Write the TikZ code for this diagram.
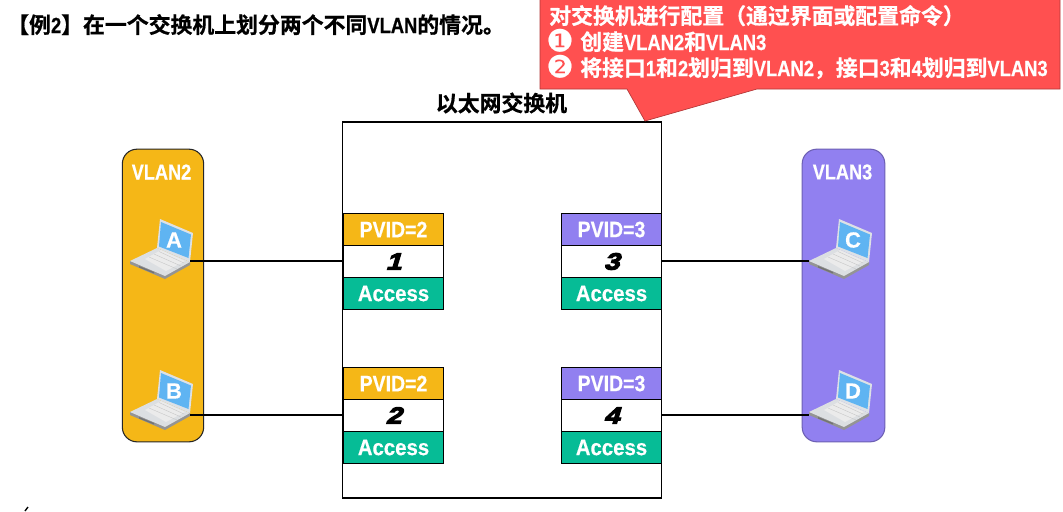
\documentclass[tikz,border=0pt]{standalone}
\usepackage{fontspec}
\setmainfont[UprightFont={* Bold},FakeBold=0.7]{Noto Sans CJK SC}
\newfontfamily\narrowlat[UprightFont={* Bold},FakeStretch=0.84,FakeBold=0.5]{Liberation Sans}
\newfontfamily\pvidlat[UprightFont={* Bold},FakeStretch=0.87,FakeBold=0.4]{Liberation Sans}
\newfontfamily\modelat[UprightFont={* Bold},FakeStretch=0.91,FakeBold=0.4]{Liberation Sans}
\newfontfamily\portlat[UprightFont={* Bold},FakeBold=0.4]{Liberation Sans}
\newfontfamily\portnum[UprightFont={* Bold},FakeBold=5,FakeSlant=0.3,FakeStretch=1.2]{Liberation Sans}
\newfontfamily\bullets[FakeBold=0.6]{DejaVu Sans}
\newcommand{\lat}[1]{{\narrowlat #1}}
\definecolor{vlanyellow}{HTML}{F5B717}
\definecolor{vlanpurple}{HTML}{9180F0}
\definecolor{accessgreen}{HTML}{06BC96}
\definecolor{calloutred}{HTML}{FF5050}
\definecolor{screenblue}{HTML}{5FB4F2}
\definecolor{lidgrey}{HTML}{DDE1E6}
\definecolor{basegrey}{HTML}{DCDFE2}
\tikzset{
  x=0.75pt,y=-0.75pt,
  heading/.style={anchor=base west,inner sep=0pt,font=\fontsize{16.4}{18}\selectfont},
  calloutline/.style={anchor=base west,inner sep=0pt,text=white,text height=14pt,text depth=3pt,font=\fontsize{16.4}{18}\selectfont},
  vlanzone/.style={draw=black!85,line width=0.8pt,rounded corners=11pt},
  vlanname/.style={inner sep=0pt,text=white,font=\narrowlat\fontsize{16.2}{17}\selectfont},
  portcell/.style={draw=black,line width=0.9pt,minimum width=75.5pt,minimum height=24pt,inner sep=0pt,outer sep=0pt},
  pvidy/.style={portcell,fill=vlanyellow,text=white,font=\pvidlat\fontsize{16.8}{17}\selectfont},
  pvidp/.style={portcell,fill=vlanpurple,text=white,font=\pvidlat\fontsize{16.8}{17}\selectfont},
  portno/.style={portcell,fill=white,text=black,font=\portnum\fontsize{17.5}{18}\selectfont},
  accessmode/.style={portcell,fill=accessgreen,text=white,font=\modelat\fontsize{16.8}{17}\selectfont},
  link/.style={draw=black,line width=1.1pt},
  hostletter/.style={inner sep=0pt,text=white,font=\portlat\fontsize{16.5}{19}\selectfont}
}
% Laptop drawn around the centre of its screen; the letter sits on the display.
\newcommand{\laptop}[4]{% x, y, node name, letter
  \begin{scope}[shift={(#1,#2)}]
    \fill[black!42] (-44,20) -- (-44,23) -- (-9,38) -- (16,24) -- (16,21) -- cycle;
    \fill[basegrey] (-44,20) -- (-17,7) -- (16,21) -- (-9,35) -- cycle;
    \fill[white!92!black] (-29,18) -- (-13,9) -- (11,20) -- (-8,30) -- cycle;
    \draw[black!22,line width=0.3pt] (-25,16) -- (3,28) (-20,13) -- (7,25) (-15,10.5) -- (10,22);
    \fill[black!55] (-35,25) -- (-20,31) -- (-20,32.5) -- (-35,26.5) -- cycle;
    \fill[lidgrey] (-14,-22) -- (19,-8) -- (16,21) -- (-17,7) -- cycle;
    \fill[screenblue] (-13,-19) -- (17,-6.5) -- (14.5,17) -- (-15,5.5) -- cycle;
    \node[hostletter] (#3) at (0,-1) {#4};
  \end{scope}
}
\begin{document}
\begin{tikzpicture}
  \useasboundingbox (0,0) rectangle (1063,511);
  \fill[white] (0,0) rectangle (1063,511);

  % Page heading
  \node[heading] (title) at (7,33) {【例\lat{2}】在一个交换机上划分两个不同\lat{VLAN}的情况。};

  % Switch body and caption
  \node[draw=black,line width=0.8pt,minimum width=239.5pt,minimum height=282pt,inner sep=0pt,outer sep=0pt] (switch) at (502,310) {};
  \node[inner sep=0pt,font=\fontsize{16.4}{18}\selectfont] (switchname) at (501.5,103) {以太网交换机};

  % Configuration callout, running off the top edge
  \path[fill=calloutred,draw=calloutred!70!black,line width=0.5pt]
    (540,-2) -- (1060,-2) -- (1060,89) -- (757,89) -- (645,121) -- (627,89) -- (540,89) -- cycle;
  \node[calloutline] (cfg1) at (549,24) {对交换机进行配置（通过界面或配置命令）};
  \node[calloutline,anchor=base] (bul1) at (560,51.5) {\bullets\fontsize{23}{24}\selectfont ❶};
  \node[calloutline] (cfg2) at (580,50) {创建\lat{VLAN2}和\lat{VLAN3}};
  \node[calloutline,anchor=base] (bul2) at (560,77.5) {\bullets\fontsize{23}{24}\selectfont ❷};
  \node[calloutline] (cfg3) at (580,76) {将接口\lat{1}和\lat{2}划归到\lat{VLAN2}，接口\lat{3}和\lat{4}划归到\lat{VLAN3}};

  % VLAN zones
  \node[vlanzone,fill=vlanyellow,minimum width=61pt,minimum height=219.5pt,inner sep=0pt] (zoneL) at (163,295.5) {};
  \node[vlanzone,draw=vlanpurple!75!black,fill=vlanpurple,minimum width=62pt,minimum height=219.5pt,inner sep=0pt] (zoneR) at (843.5,295.5) {};
  \node[vlanname] (nameL) at (161.5,172) {VLAN2};
  \node[vlanname] (nameR) at (842.5,172) {VLAN3};

  % Hosts
  \laptop{174}{241}{hostA}{A}
  \laptop{174}{392}{hostB}{B}
  \laptop{853}{241}{hostC}{C}
  \laptop{853}{392}{hostD}{D}
  \coordinate (tapA) at (190,261);
  \coordinate (tapB) at (190,415);
  \coordinate (tapC) at (809,261);
  \coordinate (tapD) at (809,415);

  % Switch ports: PVID, port number, link type
  \node[pvidy] (p1v) at (393.5,229.5) {PVID=2};
  \node[portno] (p1) at (393.5,261.5) {1};
  \node[accessmode] (p1m) at (393.5,293.5) {Access};

  \node[pvidy] (p2v) at (393.5,383.5) {PVID=2};
  \node[portno] (p2) at (393.5,415.5) {2};
  \node[accessmode] (p2m) at (393.5,447.5) {Access};

  \node[pvidp] (p3v) at (611.5,229.5) {PVID=3};
  \node[portno] (p3) at (611.5,261.5) {3};
  \node[accessmode] (p3m) at (611.5,293.5) {Access};

  \node[pvidp] (p4v) at (611.5,383.5) {PVID=3};
  \node[portno] (p4) at (611.5,415.5) {4};
  \node[accessmode] (p4m) at (611.5,447.5) {Access};

  % Links between hosts and ports
  \draw[link] (tapA) -- (tapA -| p1.west);
  \draw[link] (tapB) -- (tapB -| p2.west);
  \draw[link] (p3.east |- tapC) -- (tapC);
  \draw[link] (p4.east |- tapD) -- (tapD);

  % Stray pen mark at the bottom edge
  \draw[black,line width=1pt] (25,511) -- (28,507);
\end{tikzpicture}
\end{document}
